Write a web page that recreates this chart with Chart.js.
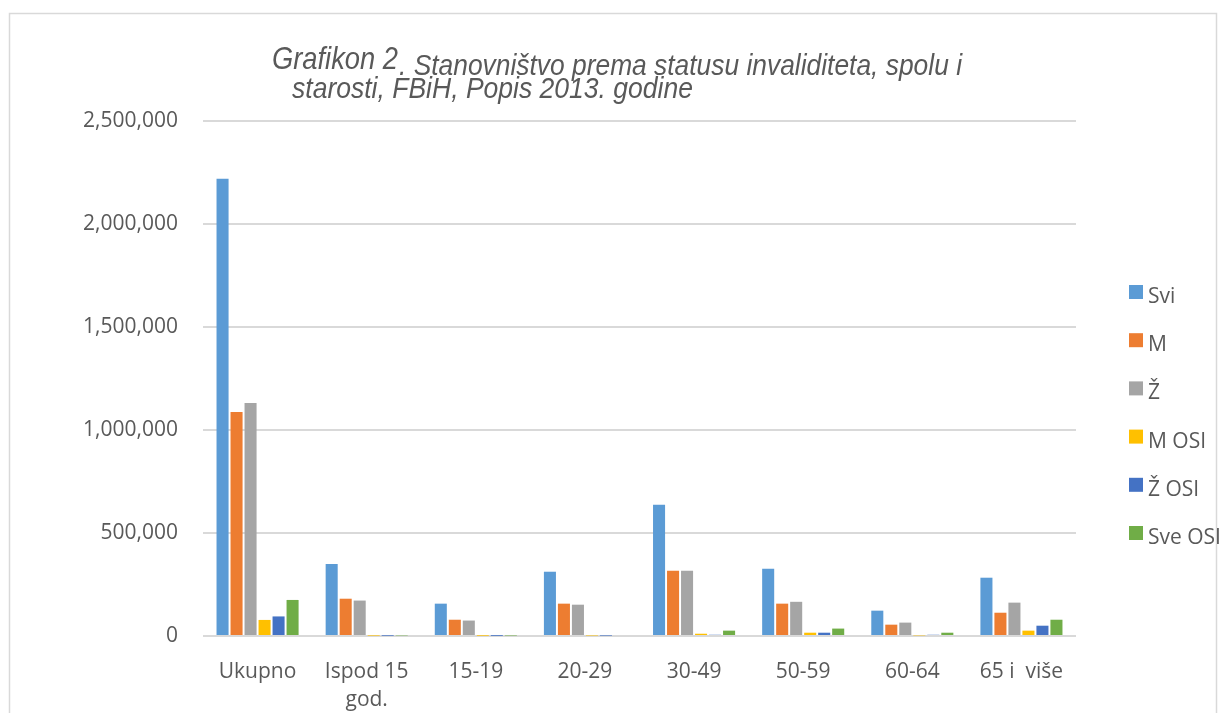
<!DOCTYPE html>
<html>
<head>
<meta charset="utf-8">
<script src="https://cdn.jsdelivr.net/npm/chart.js@4.4.1/dist/chart.umd.min.js"></script>
<style>
  html, body { margin: 0; padding: 0; background: #ffffff; }
  #wrap { width: 1219px; height: 713px; position: relative; }
</style>
</head>
<body>
<div id="wrap"><canvas id="c"></canvas></div>
<script>
// ---- Data ----
const categories = ['Ukupno', ['Ispod 15', 'god.'], '15-19', '20-29', '30-49', '50-59', '60-64', '65 i  više'];
const seriesNames = ['Svi', 'M', 'Ž', 'M OSI', 'Ž OSI', 'Sve OSI'];
const svi    = [2220000, 350000, 157000, 312000, 637000, 327000, 123000, 283000];
const muski  = [1087000, 181000,  79000, 157000, 317000, 157000,  55000, 113000];
const zenske = [1131000, 172000,  75000, 152000, 317000, 166000,  65000, 162000];
const mOsi   = [  78000,   2000,   1500,   2500,  11000,  16000,   3000,  26000];
const zOsi   = [  95000,   1500,   1000,   2000,   6000,  16000,   6000,  50000];
const sveOsi = [ 175000,   3000,   2500,   5000,  26000,  36000,  16000,  79000];
const yTicks = [0, 500000, 1000000, 1500000, 2000000, 2500000];
const titleParts = ['Grafikon 2', '. Stanovništvo prema statusu invaliditeta, spolu i', 'starosti, FBiH, Popis 2013. godine'];

const colors = ['#5b9bd5', '#ed7d31', '#a5a5a5', '#ffc000', '#4472c4', '#70ad47'];
const values = [svi, muski, zenske, mOsi, zOsi, sveOsi];

const TEXT = '#595959';
const AXFONT = '"Open Sans", "Liberation Sans", sans-serif';

function fitText(ctx, text, x, baseline, font, width) {
  ctx.save();
  ctx.font = font;
  const w = ctx.measureText(text).width;
  ctx.translate(x, baseline);
  ctx.scale(width / w, 1);
  ctx.textAlign = 'left';
  ctx.textBaseline = 'alphabetic';
  ctx.fillText(text, 0, 0);
  ctx.restore();
}

const decor = {
  id: 'decor',
  beforeDraw(chart) {
    const ctx = chart.ctx;
    ctx.save();
    ctx.fillStyle = '#ffffff';
    ctx.fillRect(0, 0, chart.width, chart.height);
    ctx.strokeStyle = '#d9d9d9';
    ctx.lineWidth = 1.5;
    ctx.strokeRect(9.5, 13.5, 1207, 720);
    ctx.restore();
  },
  afterDraw(chart) {
    const ctx = chart.ctx;
    ctx.save();
    ctx.fillStyle = TEXT;
    fitText(ctx, titleParts[0], 272, 69, 'italic 32px "Liberation Sans", Arial, sans-serif', 126);
    fitText(ctx, titleParts[1], 399, 75, 'italic 29px "Liberation Sans", Arial, sans-serif', 563);
    fitText(ctx, titleParts[2], 292, 98, 'italic 29px "Liberation Sans", Arial, sans-serif', 401);
    // legend
    const ds = chart.data.datasets;
    ctx.font = '21px ' + AXFONT;
    ctx.textBaseline = 'alphabetic';
    ctx.textAlign = 'left';
    for (let i = 0; i < ds.length; i++) {
      const top = 285 + i * 48.2;
      ctx.fillStyle = ds[i].backgroundColor;
      ctx.fillRect(1129, top, 14, 14);
      ctx.fillStyle = TEXT;
      ctx.fillText(ds[i].label, 1148, top + 18);
    }
    ctx.restore();
  }
};

new Chart(document.getElementById('c'), {
  type: 'bar',
  data: {
    labels: categories,
    datasets: seriesNames.map((n, i) => ({
      label: n,
      data: values[i],
      backgroundColor: colors[i],
      borderWidth: 0,
      categoryPercentage: 0.77,
      barPercentage: 0.86
    }))
  },
  options: {
    responsive: true,
    maintainAspectRatio: false,
    animation: false,
    devicePixelRatio: 1,
    layout: { padding: { left: 0, right: 143, top: 121, bottom: 0 } },
    plugins: {
      legend: { display: false },
      title: { display: false },
      tooltip: { enabled: false }
    },
    scales: {
      x: {
        grid: { display: false, drawTicks: false, tickLength: 0 },
        border: { display: false },
        ticks: {
          color: TEXT,
          font: { family: AXFONT, size: 21, lineHeight: 1.33 },
          padding: 22,
          maxRotation: 0,
          autoSkip: false
        },
        afterFit(s) { s.height = 77; }
      },
      y: {
        min: 0,
        max: 2500000,
        afterBuildTicks(s) { s.ticks = yTicks.map(v => ({ value: v })); },
        grid: { color: '#d9d9d9', lineWidth: 2, drawTicks: false, tickLength: 0 },
        border: { display: false },
        ticks: {
          color: TEXT,
          font: { family: AXFONT, size: 21 },
          padding: 25,
          callback: v => Number(v).toLocaleString('en-US')
        },
        afterFit(s) { s.width = 203; }
      }
    }
  },
  plugins: [decor]
});
</script>
</body>
</html>
